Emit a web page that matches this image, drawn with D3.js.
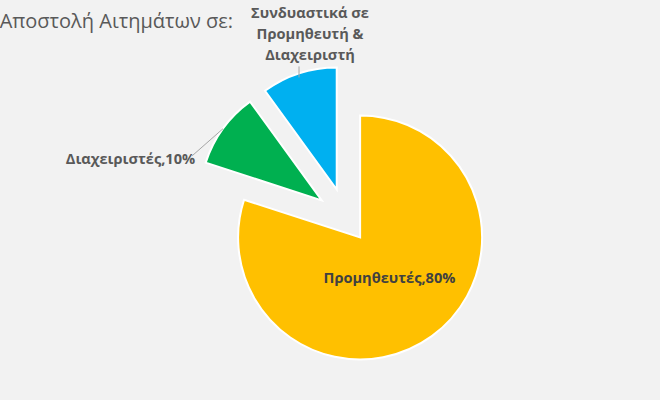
<!DOCTYPE html>
<html>
<head>
<meta charset="utf-8">
<script src="https://cdn.jsdelivr.net/npm/d3@7"></script>
<style>
  html, body { margin: 0; padding: 0; background: #f2f2f2; }
  svg { display: block; }
</style>
</head>
<body>
<svg id="chart" width="660" height="400"></svg>
<script>
// ---- data ----
const title = "Αποστολή Αιτημάτων σε:";
const categories = ["Προμηθευτές", "Διαχειριστές", "Συνδυαστικά σε Προμηθευτή & Διαχειριστή"];
const values = [80, 10, 10];
const labelLines = [
  ["Προμηθευτές,80%"],
  ["Διαχειριστές,10%"],
  ["Συνδυαστικά σε", "Προμηθευτή &", "Διαχειριστή"]
];
const colors = ["#FFC000", "#00B050", "#00B0F0"];

// ---- layout ----
const W = 660, H = 400;
const cx = 346, cy = 218, R = 122;
const explode = [24, 30, 30];
const font = "'Open Sans', 'Noto Sans', 'DejaVu Sans', sans-serif";

const svg = d3.select("#chart");
svg.append("rect").attr("width", W).attr("height", H).attr("fill", "#f2f2f2");

svg.append("text")
  .attr("x", 233).attr("y", 28)
  .attr("text-anchor", "end")
  .attr("font-family", font)
  .attr("font-size", 20)
  .attr("fill", "#595959")
  .text(title);

const pie = d3.pie().sort(null).value(d => d.value);
const arcs = pie(values.map((v, i) => ({ value: v, name: categories[i], i })));
const arc = d3.arc().innerRadius(0).outerRadius(R);
const polar = (a, r) => [Math.sin(a) * r, -Math.cos(a) * r];

const g = svg.append("g").attr("transform", `translate(${cx},${cy})`);

arcs.forEach((d, i) => {
  const mid = (d.startAngle + d.endAngle) / 2;
  const [ox, oy] = polar(mid, explode[i]);
  const sg = g.append("g").attr("transform", `translate(${ox},${oy})`);
  sg.append("path")
    .attr("d", arc(d))
    .attr("fill", colors[i])
    .attr("stroke", "#ffffff")
    .attr("stroke-width", 2)
    .attr("stroke-linejoin", "miter");

  const lbl = sg.append("text")
    .attr("font-family", font)
    .attr("font-size", 14.6)
    .attr("font-weight", 700);

  if (i === 0) {
    const [lx, ly] = polar(mid, 50);
    lbl.attr("x", lx).attr("y", ly + 5)
      .attr("text-anchor", "middle")
      .attr("fill", "#404040")
      .text(labelLines[i][0]);
  } else if (i === 1) {
    const [sx, sy] = polar(mid, R);
    const [ex, ey] = polar(289 * Math.PI / 180, 137);
    sg.append("line").attr("x1", sx).attr("y1", sy).attr("x2", ex).attr("y2", ey)
      .attr("stroke", "#a6a6a6").attr("stroke-width", 1);
    lbl.attr("x", ex + 3).attr("y", ey + 8)
      .attr("text-anchor", "end")
      .attr("fill", "#595959")
      .text(labelLines[i][0]);
  } else {
    const [sx, sy] = polar(mid, R);
    sg.append("line").attr("x1", sx).attr("y1", sy + 4).attr("x2", sx).attr("y2", sy - 7)
      .attr("stroke", "#a6a6a6").attr("stroke-width", 1);
    const n = labelLines[i].length;
    lbl.attr("text-anchor", "middle").attr("fill", "#595959");
    labelLines[i].forEach((t, k) => {
      lbl.append("tspan")
        .attr("x", sx + 11)
        .attr("y", sy - 13 - (n - 1 - k) * 21)
        .text(t);
    });
  }
});
</script>
</body>
</html>
